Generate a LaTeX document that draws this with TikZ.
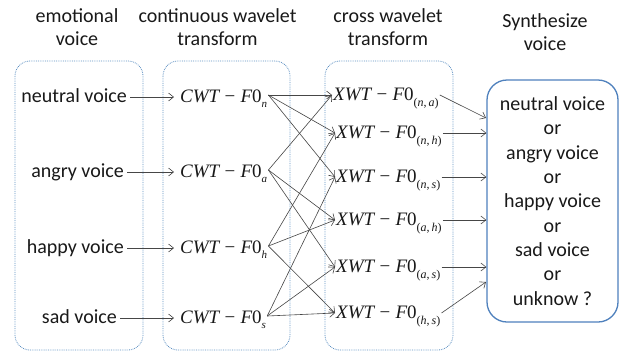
\documentclass[tikz,border=0pt]{standalone}
\usepackage{fontspec}
\setmainfont{Carlito}
\newfontfamily\timesfam{Liberation Serif}
\usetikzlibrary{arrows.meta}

\definecolor{boxblue}{RGB}{95,145,195}
\definecolor{synblue}{RGB}{79,129,189}
\definecolor{linegray}{RGB}{70,70,70}
\definecolor{inkcol}{RGB}{25,25,25}

% labels of the transformed signals
\newcommand\cwtlab[1]{{\timesfam\fontsize{19}{19}\selectfont\itshape CWT\upshape\hspace{0.28em}−\hspace{0.28em}\itshape F\upshape0\raisebox{-5pt}{\fontsize{11}{11}\selectfont\itshape #1}}}
\newcommand\xwtlab[2]{{\timesfam\fontsize{19}{19}\selectfont\itshape XWT\upshape\hspace{0.28em}−\hspace{0.28em}\itshape F\upshape0\raisebox{-6pt}{\fontsize{12}{12}\selectfont(\itshape #1\upshape,\,\itshape #2\upshape)}}}

\tikzset{
  txt/.style={font=\fontsize{20}{24}\selectfont, text=inkcol, inner sep=1pt},
  rowtxt/.style={txt, anchor=base east, text height=14pt, text depth=4pt},
  sig/.style={anchor=base west, inner sep=1pt, text=inkcol, text height=14pt, text depth=4pt},
  group/.style={draw=boxblue, densely dotted, line width=0.8pt, rounded corners=15pt},
  synth/.style={draw=synblue, line width=1.3pt, rounded corners=20pt,
    minimum width=131pt, minimum height=242pt, inner sep=0pt, align=center,
    font=\fontsize{20}{24.3}\selectfont, text=inkcol},
  conn/.style={draw=linegray, line width=0.6pt, -{Straight Barb[length=5pt,width=8pt]}},
}

\begin{document}
\begin{tikzpicture}[x=1pt,y=-1pt]
\useasboundingbox (0,0) rectangle (620,354);
\fill[white] (0,0) rectangle (620,354);

% column headers
\node[txt, anchor=base] (h1a) at (77,22) {emotional};
\node[txt, anchor=base] (h1b) at (77,45) {voice};
\node[txt, anchor=base] (h2a) at (217.5,22) {continuous wavelet};
\node[txt, anchor=base] (h2b) at (217.5,45) {transform};
\node[txt, anchor=base] (h3a) at (388,22) {cross wavelet};
\node[txt, anchor=base] (h3b) at (388,45) {transform};
\node[txt, anchor=base] (h4a) at (545,27) {Synthesize};
\node[txt, anchor=base] (h4b) at (545,50) {voice};

% dotted group frames
\draw[group] (15,61) rectangle (143,350);
\draw[group] (163,61) rectangle (290,350);
\draw[group] (325,61) rectangle (453,350);

% emotional voices
\node[rowtxt] (vn) at (128,102) {neutral voice};
\node[rowtxt] (va) at (125,177) {angry voice};
\node[rowtxt] (vh) at (125,253) {happy voice};
\node[rowtxt] (vs) at (118,323) {sad voice};

% continuous wavelet transforms
\node[sig] (cn) at (179,102) {\cwtlab{n}};
\node[sig] (ca) at (179,177) {\cwtlab{a}};
\node[sig] (ch) at (179,253) {\cwtlab{h}};
\node[sig] (cs) at (179,323) {\cwtlab{s}};

% cross wavelet transforms
\node[sig] (xna) at (332,100) {\xwtlab{n}{a}};
\node[sig] (xnh) at (335,138) {\xwtlab{n}{h}};
\node[sig] (xns) at (335,182) {\xwtlab{n}{s}};
\node[sig] (xah) at (335,225) {\xwtlab{a}{h}};
\node[sig] (xas) at (335,272) {\xwtlab{a}{s}};
\node[sig] (xhs) at (335,318) {\xwtlab{h}{s}};

% synthesized result
\node[synth] (syn) at (552.5,201) {neutral voice\\or\\angry voice\\or\\happy voice\\or\\sad voice\\or\\unknow ?};
\coordinate (in1) at (486,118);
\coordinate (in6) at (486,282);

% voice -> CWT
\foreach \v/\c in {vn/cn, va/ca, vh/ch, vs/cs}
  \draw[conn, shorten >=5pt] ([xshift=2pt]\v.east) -- (\c.west);

% CWT -> XWT
\foreach \c/\x in {cn/xna, cn/xnh, cn/xns,
                   ca/xna, ca/xah, ca/xas,
                   ch/xnh, ch/xah, ch/xhs,
                   cs/xns, cs/xas, cs/xhs}
  \draw[conn] ([yshift=2pt]\c.east) -- (\x.west);

% XWT -> synthesis
\draw[conn] (xna.east) -- (in1);
\foreach \x in {xnh, xns, xah, xas}
  \draw[conn] (\x.east) -- (\x.east -| syn.west);
\draw[conn] (xhs.east) -- (in6);
\end{tikzpicture}
\end{document}
